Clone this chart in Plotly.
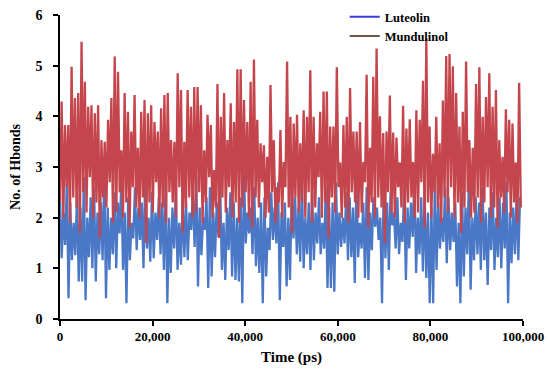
import plotly.graph_objects as go

# ---- data ----
time_step_mund = 358   # ps between samples
time_step_lut = 368

mundulinol_peaks = [
    4.29, 3.83, 3.83, 4.98, 4.36, 4.46, 5.47, 4.68, 4.19, 4.22, 4.06, 4.22, 3.53, 3.50,
    3.93, 4.36, 5.18, 4.88, 3.33, 4.46, 4.09, 3.70, 4.42, 3.38, 4.09, 4.32, 4.06, 4.22,
    3.89, 3.70, 4.16, 4.42, 4.46, 3.53, 3.50, 4.85, 4.52, 3.50, 4.52, 4.19, 4.58, 4.58,
    4.22, 3.33, 4.03, 3.83, 2.94, 4.64, 3.99, 4.46, 3.53, 4.26, 3.89, 4.93, 4.93, 4.32,
    3.89, 4.68, 5.12, 3.93, 3.47, 3.43, 3.20, 4.62, 3.53, 2.60, 3.73, 3.10, 5.08, 3.99,
    3.86, 4.03, 3.47, 4.12, 3.99, 4.91, 3.99, 3.47, 4.09, 4.49, 4.49, 3.80, 3.80, 4.97,
    3.09, 3.83, 3.99, 4.56, 3.70,
    3.70, 3.89, 3.10, 4.82, 3.38, 4.78, 5.34, 4.00, 3.67, 3.70, 4.41, 3.68, 3.58, 3.09,
    4.21, 3.76, 3.94, 3.10, 4.12, 3.93, 4.70, 5.54, 3.80, 3.26, 3.99, 3.47, 4.31, 5.19,
    5.23, 4.99, 4.46, 3.80, 4.09, 5.08, 3.53, 3.38, 4.64, 4.97, 3.99, 4.38, 4.85, 4.19,
    4.52, 3.53, 3.20, 4.14, 3.93, 3.86, 3.09, 4.66,
]
mundulinol_troughs = [
    2.3, 2.0, 2.6, 1.9, 2.4, 2.2, 1.7, 2.5, 2.1, 2.8, 2.0,
    2.3, 1.6, 2.4, 2.2, 2.7, 1.9, 2.1, 2.5, 2.0, 2.3,
    1.8, 2.6, 2.2, 2.0, 2.4, 1.5, 2.3, 2.1, 2.7, 2.0,
    2.2, 1.9, 2.5, 2.3, 2.0, 2.6, 1.7, 2.2, 2.4, 2.0,
    2.1, 2.5, 1.9, 2.3, 2.8, 2.0, 2.2, 1.6, 2.4, 2.1,
    2.6, 2.0, 2.3, 1.9, 2.2, 2.5, 2.0, 1.8, 2.4, 2.2,
    2.7, 2.0, 2.1, 2.5, 1.9, 2.3, 2.0, 2.6, 2.2, 1.7,
    2.4, 2.1, 2.3, 2.0, 2.5, 1.9, 2.2, 2.8, 2.0, 2.3,
    1.6, 2.4, 2.1, 2.6, 2.0, 2.2, 1.9, 2.5, 2.3, 2.0,
    2.1, 2.7, 1.8, 2.3, 2.0, 2.4, 2.2, 1.5, 2.5, 2.1,
    2.0, 2.6, 2.2, 1.9, 2.3, 2.4, 2.0, 2.1, 2.7, 1.8,
    2.3, 2.0, 2.5, 2.2, 1.9, 2.4, 2.1, 2.6, 2.0, 2.3,
    1.7, 2.2, 2.5, 2.0, 2.1, 2.4, 1.9, 2.3, 2.6, 2.0,
    2.2, 1.8, 2.4, 2.1, 2.5, 2.0, 2.3, 1.9, 2.2,
]

luteolin_lows = [
    1.20, 1.46, 0.41, 1.16, 1.26, 0.74, 0.74, 0.37, 1.22, 1.00, 0.74, 1.28, 1.16, 0.41,
    0.97, 1.28, 1.00, 1.69, 0.97, 0.31, 1.16, 1.59, 1.36, 1.56, 1.00, 1.39, 1.13, 1.20,
    1.56, 1.28, 0.97, 0.31, 0.91, 1.39, 0.97, 1.07, 1.22, 1.16, 1.76, 1.42, 0.64, 1.26,
    1.76, 0.61,
    0.84, 1.22, 1.62, 0.97, 0.77, 1.36, 0.84, 0.77, 0.74, 0.31, 1.49, 1.69, 1.28, 1.04,
    0.91, 0.31, 0.84, 1.36, 1.56, 1.49, 0.37, 1.42, 0.64, 0.77, 1.59, 1.28, 1.13, 1.00,
    1.28, 0.97, 1.16, 1.49, 1.28, 1.39, 0.61, 0.61, 0.54, 1.28, 1.42, 1.49, 1.16, 1.22,
    0.71, 1.22, 1.39, 0.81,
    0.77, 1.36, 1.82, 1.56, 0.31, 1.20, 0.97, 1.85, 1.39, 1.28, 1.52, 0.77, 1.39, 1.62,
    0.91, 1.28, 0.94, 0.81, 0.31, 0.31, 0.97, 1.39, 1.52, 1.10, 1.36, 1.52, 0.64, 0.31,
    0.84, 1.28, 0.58, 1.16, 1.28, 0.97, 1.16, 0.67, 1.36, 0.97, 1.22, 1.00, 1.39, 0.31,
    1.10, 1.28, 1.16,
]
luteolin_highs = [
    2.4, 2.1, 2.7, 2.3, 1.9, 2.5, 2.2, 2.8, 2.0, 2.4,
    2.6, 2.1, 2.3, 2.9, 2.2, 2.0, 2.5, 2.3, 2.7, 2.1,
    2.4, 1.9, 2.6, 2.2, 2.3, 2.8, 2.0, 2.5, 2.1, 2.4,
    2.3, 2.7, 2.0, 2.2, 2.6, 1.9, 2.4, 2.3, 2.1, 2.5,
    2.8, 2.2, 2.0, 2.4, 2.6, 2.1, 2.3, 2.7, 1.9, 2.2,
    2.5, 2.3, 2.0, 2.4, 2.9, 2.1, 2.2, 2.6, 2.0, 2.3,
    2.4, 1.8, 2.5, 2.2, 2.7, 2.1, 2.3, 2.0, 2.6, 2.4,
    2.2, 2.8, 2.0, 2.3, 2.5, 2.1, 2.4, 1.9, 2.6, 2.2,
    2.3, 2.7, 2.1, 2.0, 2.5, 2.4, 2.2, 2.8, 1.9, 2.3,
    2.6, 2.1, 2.4, 2.2, 2.0, 2.7, 2.3, 2.5, 2.1, 2.4,
    1.9, 2.6, 2.2, 2.3, 2.8, 2.0, 2.4, 2.5, 2.1, 2.2,
    2.7, 2.3, 2.0, 2.6, 2.4, 2.1, 2.3, 1.9, 2.5, 2.2,
    2.8, 2.0, 2.4, 2.3, 2.6, 2.1, 2.2, 2.5, 2.0, 2.4,
    2.3, 2.7, 2.1, 2.2, 2.5, 2.4,
]

x_tick_vals = [0, 20000, 40000, 60000, 80000, 100000]
x_tick_text = ["0", "20,000", "40,000", "60,000", "80,000", "100,000"]
y_tick_vals = [0, 1, 2, 3, 4, 5, 6]

# ---- assemble series (alternate low/high samples) ----
def interleave(lows, highs):
    out = []
    for i, h in enumerate(highs):
        out.append(lows[i])
        out.append(h)
    if len(lows) > len(highs):
        out.append(lows[len(highs)])
    return out

mund_y = interleave(mundulinol_troughs, mundulinol_peaks)
mund_x = [i * time_step_mund for i in range(len(mund_y))]
lut_y = interleave(luteolin_highs, luteolin_lows)
lut_x = [i * time_step_lut for i in range(len(lut_y))]

serif = "Liberation Serif"

fig = go.Figure()
fig.add_trace(go.Scatter(x=lut_x, y=lut_y, mode="lines", showlegend=False,
                         line=dict(color="#4a78c6", width=2.3)))
fig.add_trace(go.Scatter(x=mund_x, y=mund_y, mode="lines", showlegend=False,
                         line=dict(color="#c4454b", width=2.3)))
# legend entries
fig.add_trace(go.Scatter(x=[None], y=[None], mode="lines", name="Luteolin",
                         line=dict(color="#3b3be0", width=2)))
fig.add_trace(go.Scatter(x=[None], y=[None], mode="lines", name="Mundulinol",
                         line=dict(color="#6e5245", width=2)))

fig.update_layout(
    width=550, height=372,
    margin=dict(l=60, r=27, t=15, b=53, autoexpand=False),
    paper_bgcolor="white", plot_bgcolor="white",
    font=dict(family=serif, color="black"),
    legend=dict(x=0.615, xanchor="left", y=1 - 2 / 372, yref="container", yanchor="top",
                bgcolor="rgba(0,0,0,0)",
                font=dict(family=serif, size=12.5, weight="bold"),
                tracegroupgap=0),
)
fig.update_xaxes(
    range=[0, 100000], tickvals=x_tick_vals, ticktext=x_tick_text,
    showline=True, linecolor="black", linewidth=1.5,
    ticks="outside", ticklen=5, tickcolor="black", tickwidth=1.5,
    showgrid=False, zeroline=False,
    tickfont=dict(family=serif, size=13, weight="bold"),
    title=dict(text="Time (ps)", font=dict(family=serif, size=15, weight="bold"), standoff=8),
)
fig.update_yaxes(
    range=[0, 6], tickvals=y_tick_vals,
    showline=True, linecolor="black", linewidth=1.5,
    ticks="outside", ticklen=5, tickcolor="black", tickwidth=1.5,
    showgrid=False, zeroline=False, ticklabelstandoff=8,
    tickfont=dict(family=serif, size=14, weight="bold"),
    title=dict(text="No. of Hbonds", font=dict(family=serif, size=14, weight="bold"), standoff=12),
)

fig.write_html("out.html", config={"displayModeBar": False},
               post_script="document.body.style.margin='0';")
